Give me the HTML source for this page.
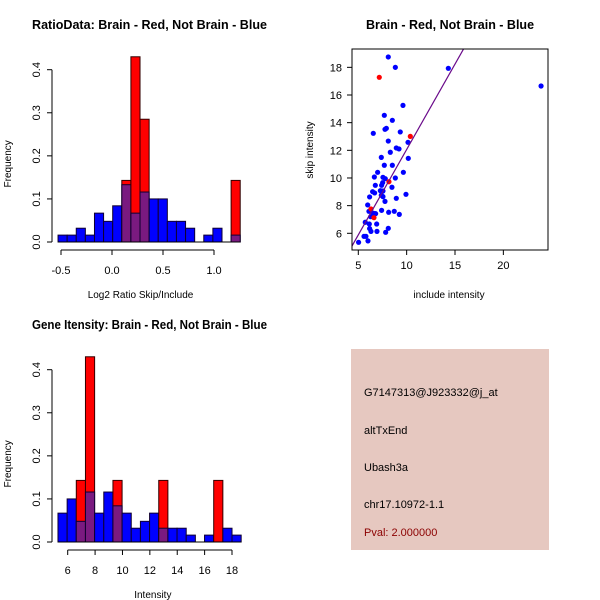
<!DOCTYPE html>
<html><head><meta charset="utf-8"><style>
body{margin:0;background:#fff;}
svg{display:block;font-family:"Liberation Sans",sans-serif;}
</style></head><body>
<svg id="c" width="600" height="600" xmlns="http://www.w3.org/2000/svg"></svg>
<script>
// Panel 1: ratio histogram
const ratioBinStart = -0.529, ratioBinStep = 0.0893;
const ratioBlue = [0.016,0.016,0.032,0.016,0.067,0.048,0.084,0.133,0.067,0.116,0.1,0.1,0.048,0.048,0.032,0,0.016,0.032,0,0.016];
const ratioRed  = [0,0,0,0,0,0,0,0.143,0.43,0.285,0,0,0,0,0,0,0,0,0,0.143];
const ratioXTicks = [-0.5,0,0.5,1.0];
const ratioXLabels = ["-0.5","0.0","0.5","1.0"];
const freqTicks = [0,0.1,0.2,0.3,0.4];
const freqLabels = ["0.0","0.1","0.2","0.3","0.4"];
// Panel 3: intensity histogram
const intBinStart = 5.29, intBinStep = 0.669;
const intBlue = [0.067,0.1,0.048,0.116,0.067,0.116,0.084,0.067,0.032,0.048,0.067,0.032,0.032,0.032,0.016,0,0.016,0,0.032,0.016];
const intRed  = [0,0,0.143,0.43,0,0,0.143,0,0,0,0,0.143,0,0,0,0,0,0.143,0,0];
const intXTicks = [6,8,10,12,14,16,18];
// Panel 2: scatter
const scBlueX = [8.10,8.83,9.62,7.69,8.52,7.90,7.76,9.34,6.55,8.10,10.14,8.93,9.21,8.31,7.38,10.17,7.69,8.52,7.0,9.66,6.66,7.55,7.79,8.83,7.52,6.76,7.41,8.48,7.28,6.48,7.55,6.69,7.38,6.17,7.55,7.76,8.93,9.93,5.97,7.41,6.10,8.14,8.72,9.24,6.55,6.79,6.28,5.72,6.14,6.90,6.17,8.10,6.31,6.93,7.83,5.59,5.79,6.0,5.03,14.31,23.9];
const scBlueY = [18.75,18.0,15.25,14.53,14.17,13.59,13.52,13.33,13.23,12.67,12.58,12.17,12.10,11.86,11.49,11.42,10.92,10.92,10.41,10.41,10.07,10.05,9.95,10.0,9.66,9.47,9.47,9.33,9.08,9.01,9.06,8.92,8.75,8.63,8.65,8.31,8.53,8.82,8.05,7.66,7.59,7.52,7.59,7.37,7.45,7.42,7.20,6.80,6.67,6.67,6.34,6.36,6.14,6.14,6.07,5.78,5.78,5.45,5.35,17.93,16.65];
const scRedX = [7.17,10.38,8.17,6.31,6.62];
const scRedY = [17.28,13.01,9.73,7.76,7.13];
const fitLine = [1.235,-0.29]; // slope, intercept
const scXTicks = [5,10,15,20];
const scYTicks = [6,8,10,12,14,16,18];

const svg = document.getElementById('c');
const NS='http://www.w3.org/2000/svg';
function mk(tag, attrs, parent){const e=document.createElementNS(NS,tag);for(const k in attrs)e.setAttribute(k,attrs[k]);(parent||svg).appendChild(e);return e;}
function txt(s,attrs,parent){const e=mk('text',attrs,parent);e.textContent=s;return e;}

function histPanel(oy, x0, x1, xdom0, xdom1, start, step, blue, red, xt, xl, title, xlabel, names){
  const g=mk('g',{});
  
  
  const sx=v=>x0+(v-xdom0)/(xdom1-xdom0)*(x1-x0);
  const y0=242+oy, sy=v=>y0-v/0.4*(y0-(69.7+oy));
  const t=txt(title,{x:32,y:29+oy,'font-size':12.5,'font-weight':'bold',textLength:235,lengthAdjust:'spacingAndGlyphs'},g);
  
  for(let i=0;i<blue.length;i++){
    const a=sx(start+i*step), b=sx(start+(i+1)*step);
    const bl=blue[i], rd=red[i], ov=Math.min(bl,rd);
    if(rd>0){const r=mk('rect',{x:a,y:sy(rd),width:b-a,height:y0-sy(rd),fill:'#ff0000',stroke:'#300',"stroke-width":1},g);
      }
    if(bl>0){const r=mk('rect',{x:a,y:sy(bl),width:b-a,height:y0-sy(bl),fill:rd>0?'#7a1a80':'#0000ff',stroke:'#100030',"stroke-width":1},g);
      }
  }
  mk('line',{x1:sx(start),x2:sx(start+blue.length*step),y1:y0,y2:y0,stroke:'#000'},g);
  // y axis
  const ax=52;
  mk('line',{x1:ax,x2:ax,y1:sy(0),y2:sy(0.4),stroke:'#000'},g);
  freqTicks.forEach((v,i)=>{mk('line',{x1:ax-5,x2:ax,y1:sy(v),y2:sy(v),stroke:'#000'},g);
    const l=txt(freqLabels[i],{x:0,y:0,'font-size':11,'text-anchor':'middle',transform:`translate(${ax-12},${sy(v)}) rotate(-90)`},g);
    });
  const yt=txt('Frequency',{x:0,y:0,'font-size':10,'text-anchor':'middle',transform:`translate(11,${sy(0.2)+8}) rotate(-90)`},g);
  
  // x axis
  const ay=250+oy;
  mk('line',{x1:sx(xt[0]),x2:sx(xt[xt.length-1]),y1:ay,y2:ay,stroke:'#000'},g);
  xt.forEach((v,i)=>{mk('line',{x1:sx(v),x2:sx(v),y1:ay,y2:ay+5,stroke:'#000'},g);
    const l=txt(xl[i],{x:sx(v),y:ay+24,'font-size':11,'text-anchor':'middle'},g);
    });
  const xtl=txt(xlabel,{x:(x0+x1)/2+3,y:ay+48,'font-size':10,'text-anchor':'middle'},g);
  
}
histPanel(0,61,214,-0.5,1.0,ratioBinStart,ratioBinStep,ratioBlue,ratioRed,ratioXTicks,ratioXLabels,
  'RatioData: Brain - Red, Not Brain - Blue','Log2 Ratio Skip/Include','ratio-histogram');
histPanel(300,67.7,232,6,18,intBinStart,intBinStep,intBlue,intRed,intXTicks,intXTicks.map(String),
  'Gene Itensity: Brain - Red, Not Brain - Blue','Intensity','intensity-histogram');

// scatter
(function(){
  const g=mk('g',{});
  
  
  const L=352,R=548,T=49,B=250;
  const sx=v=>358.3+(v-5)*9.67, sy=v=>233.3-(v-6)*13.83;
  const t=txt('Brain - Red, Not Brain - Blue',{x:450,y:29,'font-size':12.5,'font-weight':'bold','text-anchor':'middle'},g);
  
  const cp=mk('clipPath',{id:'scclip'},g);mk('rect',{x:L,y:T,width:R-L,height:B-T},cp);
  const pts=mk('g',{'clip-path':'url(#scclip)'},g);
  scBlueX.forEach((x,i)=>{const c=mk('circle',{cx:sx(x),cy:sy(scBlueY[i]),r:2.6,fill:'#0000ff'},pts);
    });
  scRedX.forEach((x,i)=>{const c=mk('circle',{cx:sx(x),cy:sy(scRedY[i]),r:2.6,fill:'#ff0000'},pts);
    });
  const xa=4,xb=17;
  const ln=mk('line',{x1:sx(xa),y1:sy(fitLine[0]*xa+fitLine[1]),x2:sx(xb),y2:sy(fitLine[0]*xb+fitLine[1]),stroke:'#6a0a8a','stroke-width':1.2},pts);
  
  mk('rect',{x:L,y:T,width:R-L,height:B-T,fill:'none',stroke:'#000'},g);
  scXTicks.forEach(v=>{mk('line',{x1:sx(v),x2:sx(v),y1:B,y2:B+5,stroke:'#000'},g);
    const l=txt(String(v),{x:sx(v),y:B+19,'font-size':11,'text-anchor':'middle'},g);
    });
  scYTicks.forEach(v=>{mk('line',{x1:L-5,x2:L,y1:sy(v),y2:sy(v),stroke:'#000'},g);
    const l=txt(String(v),{x:L-10,y:sy(v)+4,'font-size':11,'text-anchor':'end'},g);
    });
  const xl=txt('include intensity',{x:449,y:298,'font-size':10,'text-anchor':'middle'},g);
  
  const yl=txt('skip intensity',{x:0,y:0,'font-size':10,'text-anchor':'middle',transform:'translate(313,150) rotate(-90)'},g);
  
})();
</script>
<svg width="600" height="600" style="position:absolute;left:0;top:0" xmlns="http://www.w3.org/2000/svg">
  <g font-family="Liberation Sans, sans-serif" font-size="11">
    <rect x="351" y="349" width="198" height="201" fill="#e6c8c0"/>
    <text x="364" y="396" fill="#000">G7147313@J923332@j_at</text>
    <text x="364" y="434" fill="#000">altTxEnd</text>
    <text x="364" y="471" fill="#000">Ubash3a</text>
    <text x="364" y="508" fill="#000">chr17.10972-1.1</text>
    <text x="364" y="536" fill="#8b0000">Pval: 2.000000</text>
  </g>
</svg>
</body></html>
